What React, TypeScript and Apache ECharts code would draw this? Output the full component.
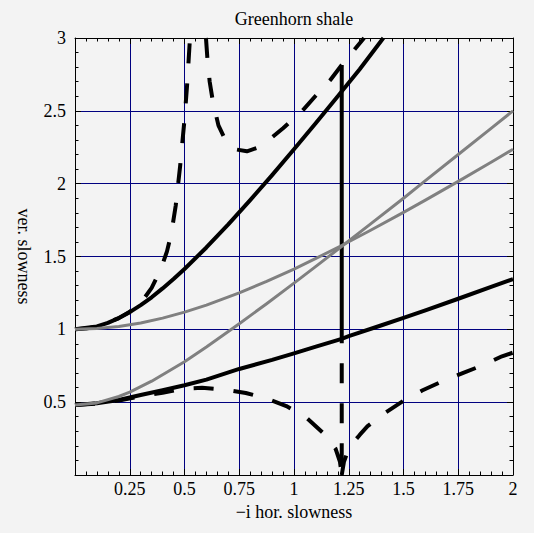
import React, { useEffect, useRef } from 'react';
import * as echarts from 'echarts';

const FONT = '"Liberation Serif", "Times New Roman", Times, serif';
const BG = '#f3f3f3';

const xTickLabels = ['0.25', '0.5', '0.75', '1', '1.25', '1.5', '1.75', '2'];
const yTickLabels = ['0.5', '1', '1.5', '2', '2.5', '3'];

// solid black, upper branch
const curveA: number[][] = [
  [0, 1.0], [0.05, 1.005], [0.1, 1.02], [0.15, 1.044], [0.2, 1.077], [0.25, 1.118], [0.3, 1.166],
  [0.35, 1.22], [0.4, 1.281], [0.45, 1.345], [0.5, 1.414], [0.6, 1.562], [0.7, 1.72], [0.8, 1.887],
  [0.9, 2.059], [1.0, 2.236], [1.1, 2.417], [1.2, 2.6], [1.3, 2.786], [1.408, 3.0],
];
// solid black, lower branch
const curveB: number[][] = [
  [0, 0.48], [0.1, 0.492], [0.2, 0.515], [0.3, 0.549], [0.4, 0.582], [0.5, 0.616], [0.6, 0.655],
  [0.75, 0.728], [0.9, 0.79], [1.0, 0.835], [1.1, 0.881], [1.218, 0.935], [1.25, 0.953],
  [1.4, 1.028], [1.5, 1.078], [1.6, 1.13], [1.75, 1.21], [1.9, 1.292], [2.0, 1.345],
];
// solid black vertical jump
const jumpSolid: number[][] = [[1.218, 0.935], [1.218, 2.815]];
// dashed black, upper, left of the pole
const dashUpperLeft: number[][] = [
  [0, 1.0], [0.1, 1.02], [0.2, 1.077], [0.25, 1.12], [0.3, 1.18], [0.35, 1.285], [0.39, 1.405],
  [0.42, 1.535], [0.44, 1.66], [0.46, 1.85], [0.48, 2.12], [0.5, 2.44], [0.512, 2.68], [0.525, 3.0],
];
// dashed black, upper, right of the pole
const dashUpperRight: number[][] = [
  [0.598, 3.0], [0.605, 2.85], [0.615, 2.7], [0.63, 2.56], [0.655, 2.4], [0.69, 2.29],
  [0.735, 2.235], [0.785, 2.222], [0.83, 2.245], [0.875, 2.288], [0.95, 2.38], [1.035, 2.495],
  [1.1, 2.605], [1.165, 2.71], [1.218, 2.815], [1.27, 2.91], [1.32, 3.0],
];
// dashed black, lower, left part with vertical
const dashLowerLeft: number[][] = [
  [0, 0.48], [0.1, 0.49], [0.2, 0.512], [0.3, 0.54], [0.4, 0.565], [0.5, 0.593], [0.58, 0.599],
  [0.68, 0.586], [0.78, 0.563], [0.87, 0.527], [0.965, 0.473], [1.05, 0.402], [1.13, 0.292],
  [1.19, 0.18], [1.21, 0.09], [1.218, 0.0], [1.218, 0.935],
];
// dashed black, lower, right part
const dashLowerRight: number[][] = [
  [1.218, 0.0], [1.228, 0.09], [1.24, 0.14], [1.255, 0.185], [1.27, 0.222], [1.3, 0.275],
  [1.336, 0.335], [1.416, 0.427], [1.5, 0.51], [1.585, 0.58], [1.68, 0.645], [1.77, 0.7],
  [1.865, 0.755], [1.95, 0.815], [2.0, 0.84],
];
// gray curves
const grayUpper: number[][] = [
  [0, 1.0], [0.1, 1.005], [0.2, 1.02], [0.3, 1.044], [0.4, 1.077], [0.5, 1.118], [0.6, 1.166],
  [0.75, 1.25], [0.875, 1.329], [1.0, 1.414], [1.1, 1.487], [1.22, 1.577], [1.35, 1.68], [1.5, 1.803],
  [1.6, 1.887], [1.75, 2.016], [1.9, 2.147], [2.0, 2.236],
];
const grayLower: number[][] = [
  [0, 0.48], [0.1, 0.495], [0.2, 0.539], [0.25, 0.569], [0.35, 0.644], [0.5, 0.778], [0.6, 0.879],
  [0.75, 1.038], [0.875, 1.176], [1.0, 1.317], [1.1, 1.432], [1.22, 1.572], [1.35, 1.724], [1.5, 1.9],
  [1.6, 2.021], [1.75, 2.2], [1.9, 2.38], [2.0, 2.5],
];

const fmt = (labels: string[]) => (v: number) => {
  const s = String(+Number(v).toFixed(2));
  return labels.includes(s) ? s : '';
};

const frameAxisCommon = {
  type: 'value' as const,
  axisLine: { show: true, onZero: false, lineStyle: { color: '#000', width: 1 } },
  axisTick: { show: true, inside: true, length: 6, lineStyle: { color: '#000', width: 1 } },
  minorTick: { show: true, splitNumber: 5, length: 3.5, lineStyle: { color: '#000', width: 1 } },
};

const solid = (data: number[][], color = '#000', width = 4) => ({
  type: 'line' as const,
  data,
  showSymbol: false,
  symbol: 'none',
  clip: true,
  lineStyle: { color, width, type: 'solid' as const, cap: 'butt' as const, join: 'round' as const },
  z: 3,
});
const dashed = (data: number[][]) => ({
  type: 'line' as const,
  data,
  showSymbol: false,
  symbol: 'none',
  clip: true,
  lineStyle: { color: '#000', width: 4, type: [20, 20], cap: 'butt' as const, join: 'round' as const },
  z: 3,
});

export default function App() {
  const ref = useRef<HTMLDivElement>(null);
  useEffect(() => {
    document.body.style.margin = '0';
    document.body.style.background = BG;
    const chart = echarts.init(ref.current!, null, { renderer: 'svg' });
    chart.setOption({
      animation: false,
      backgroundColor: BG,
      textStyle: { fontFamily: FONT },
      graphic: [
        {
          type: 'text',
          x: 294,
          y: 19,
          style: {
            text: 'Greenhorn shale',
            fontFamily: FONT,
            fontSize: 18,
            fill: '#000',
            align: 'center',
            verticalAlign: 'middle',
          },
        },
      ],
      grid: { left: 75, right: 21, top: 38, bottom: 58, containLabel: false },
      xAxis: [
        {
          ...frameAxisCommon,
          position: 'bottom',
          min: 0,
          max: 2,
          interval: 0.25,
          splitLine: { show: true, lineStyle: { color: '#000080', width: 1 } },
          axisLabel: {
            show: true,
            formatter: fmt(xTickLabels),
            fontFamily: FONT,
            fontSize: 18,
            color: '#000',
            margin: 5,
          },
          name: '\u2212i hor. slowness',
          nameLocation: 'middle',
          nameGap: 24,
          nameTextStyle: { fontFamily: FONT, fontSize: 18, color: '#000' },
        },
        {
          ...frameAxisCommon,
          position: 'top',
          min: 0,
          max: 2,
          interval: 0.25,
          splitLine: { show: false },
          axisLabel: { show: false },
        },
      ],
      yAxis: [
        {
          ...frameAxisCommon,
          position: 'left',
          min: 0,
          max: 3,
          interval: 0.5,
          splitLine: { show: true, lineStyle: { color: '#000080', width: 1 } },
          axisLabel: {
            show: true,
            formatter: fmt(yTickLabels),
            fontFamily: FONT,
            fontSize: 18,
            color: '#000',
            margin: 9,
          },
          name: 'ver. slowness',
          nameLocation: 'middle',
          nameRotate: -90,
          nameGap: 38,
          nameTextStyle: { fontFamily: FONT, fontSize: 18, color: '#000' },
        },
        {
          ...frameAxisCommon,
          position: 'right',
          min: 0,
          max: 3,
          interval: 0.5,
          splitLine: { show: false },
          axisLabel: { show: false },
        },
      ],
      series: [
        solid(curveA),
        solid(curveB),
        dashed(dashUpperLeft),
        dashed(dashUpperRight),
        dashed(dashLowerLeft),
        dashed(dashLowerRight),
        solid(jumpSolid),
        { ...solid(grayUpper, '#808080', 3), z: 4 },
        { ...solid(grayLower, '#808080', 3), z: 4 },
      ],
    });
    return () => chart.dispose();
  }, []);
  return <div ref={ref} style={{ width: 534, height: 533 }} />;
}
